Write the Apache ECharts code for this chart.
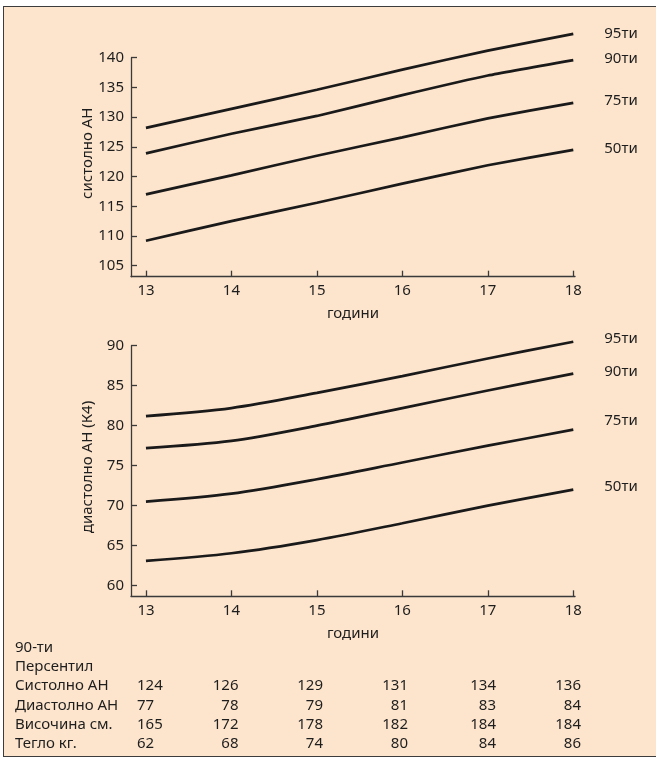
<!DOCTYPE html>
<html lang="bg">
<head>
<meta charset="utf-8">
<script src="https://cdn.jsdelivr.net/npm/echarts@6/dist/echarts.min.js"></script>
<style>
html,body{margin:0;padding:0;background:#ffffff;}
#frame{position:absolute;left:3px;top:6px;width:700px;height:749px;background:#fde4cc;border:1.5px solid #3c3c3c;}
#chart{position:absolute;left:0;top:0;width:656px;height:763px;}
</style>
</head>
<body>
<div id="frame"></div>
<div id="chart"></div>
<script>
// ---- data ----
const years = [13, 14, 15, 16, 17, 18];
const percentileNames = ['95ти', '90ти', '75ти', '50ти'];

const systolic95 = [128.2, 131.4, 134.6, 138.0, 141.2, 144.0];
const systolic90 = [123.9, 127.2, 130.2, 133.7, 137.0, 139.6];
const systolic75 = [117.0, 120.2, 123.5, 126.6, 129.8, 132.4];
const systolic50 = [109.2, 112.5, 115.6, 118.8, 121.9, 124.5];

const diastolic95 = [81.2, 82.2, 84.1, 86.2, 88.4, 90.5];
const diastolic90 = [77.2, 78.1, 80.0, 82.2, 84.4, 86.5];
const diastolic75 = [70.5, 71.5, 73.3, 75.4, 77.5, 79.5];
const diastolic50 = [63.1, 64.05, 65.7, 67.8, 70.0, 72.0];

const systolicTicks = [105, 110, 115, 120, 125, 130, 135, 140];
const diastolicTicks = [60, 65, 70, 75, 80, 85, 90];

const tableTitle = ['90-ти', 'Персентил'];
const tableRowNames = ['Систолно АН', 'Диастолно АН', 'Височина см.', 'Тегло кг.'];
const tableSystolic = [124, 126, 129, 131, 134, 136];
const tableDiastolic = [77, 78, 79, 81, 83, 84];
const tableHeight = [165, 172, 178, 182, 184, 184];
const tableWeight = [62, 68, 74, 80, 84, 86];

// ---- chart ----
const FONT = 'Noto Sans';
const TEXT = '#1e1e1e';
const AXIS = '#3a3a3a';

const chart = echarts.init(document.getElementById('chart'), null, {renderer: 'canvas'});

function xAxis(gridIndex) {
  return {
    gridIndex, type: 'value', min: 12.825, max: 18.02,
    name: 'години', nameLocation: 'middle', nameGap: 30, nameMoveOverlap: false,
    nameTextStyle: {fontFamily: FONT, fontSize: 15, color: TEXT},
    axisLine: {show: true, lineStyle: {color: AXIS, width: 1.3}},
    axisTick: {show: true, inside: true, length: 6, customValues: years, lineStyle: {color: AXIS, width: 1.3}},
    axisLabel: {customValues: years, fontFamily: FONT, fontSize: 15, color: TEXT, margin: 7},
    splitLine: {show: false}
  };
}
function yAxis(gridIndex, min, max, ticks, name, shift) {
  return {
    gridIndex, type: 'value', min, max,
    name, nameLocation: 'middle', nameGap: 36, nameMoveOverlap: false,
    nameTextStyle: {fontFamily: FONT, fontSize: 15, color: TEXT, padding: [0, 0, 0, shift]},
    axisLine: {show: true, lineStyle: {color: AXIS, width: 1.3}},
    axisTick: {show: true, inside: true, length: 6, customValues: ticks, lineStyle: {color: AXIS, width: 1.3}},
    axisLabel: {customValues: ticks, fontFamily: FONT, fontSize: 15, color: TEXT, margin: 7},
    splitLine: {show: false}
  };
}

const topSets = [systolic95, systolic90, systolic75, systolic50];
const bottomSets = [diastolic95, diastolic90, diastolic75, diastolic50];
const topShift = [0, -1, -2, -1];
const bottomShift = [-3, -2, -9, -3];

function lineSeries(values, name, axisIndex, dy, smooth) {
  return {
    type: 'line', name, xAxisIndex: axisIndex, yAxisIndex: axisIndex,
    data: years.map((y, i) => [y, values[i]]),
    smooth, symbol: 'none', clip: false, silent: true,
    lineStyle: {color: '#1a1a1a', width: 2.7},
    endLabel: {show: true, formatter: name, distance: 31, offset: [0, dy],
               fontFamily: FONT, fontSize: 15, color: TEXT}
  };
}

const series = [];
topSets.forEach((s, i) => series.push(lineSeries(s, percentileNames[i], 0, topShift[i], 0.15)));
bottomSets.forEach((s, i) => series.push(lineSeries(s, percentileNames[i], 1, bottomShift[i], 0.3)));

// table as graphic text
const graphics = [];
const rowY = [648, 667, 686, 706, 725, 744];
const labelX = 15;
const col1X = 137;
const colRightX = [238.5, 323, 408, 496, 581];
const tStyle = {fontFamily: FONT, fontSize: 15, fill: TEXT};
tableTitle.forEach((t, i) => graphics.push({type: 'text', x: labelX, y: rowY[i],
  style: Object.assign({text: t, verticalAlign: 'middle', align: 'left'}, tStyle)}));
const tableRows = [tableSystolic, tableDiastolic, tableHeight, tableWeight];
tableRows.forEach((row, r) => {
  const y = rowY[r + 2];
  graphics.push({type: 'text', x: labelX, y, style: Object.assign({text: tableRowNames[r], verticalAlign: 'middle', align: 'left'}, tStyle)});
  row.forEach((v, c) => {
    if (c === 0) {
      graphics.push({type: 'text', x: col1X, y, style: Object.assign({text: String(v), verticalAlign: 'middle', align: 'left'}, tStyle)});
    } else {
      graphics.push({type: 'text', x: colRightX[c - 1], y, style: Object.assign({text: String(v), verticalAlign: 'middle', align: 'right'}, tStyle)});
    }
  });
});

chart.setOption({
  backgroundColor: 'transparent',
  animation: false,
  textStyle: {fontFamily: FONT},
  grid: [
    {left: 131, top: 57.7, width: 444, height: 219},
    {left: 131, top: 345.7, width: 444, height: 250.6}
  ],
  xAxis: [xAxis(0), xAxis(1)],
  yAxis: [
    yAxis(0, 103.15, 140, systolicTicks, 'систолно АН', 28),
    yAxis(1, 58.67, 90, diastolicTicks, 'диастолно АН (К4)', 8)
  ],
  series,
  graphic: graphics
});
</script>
</body>
</html>
